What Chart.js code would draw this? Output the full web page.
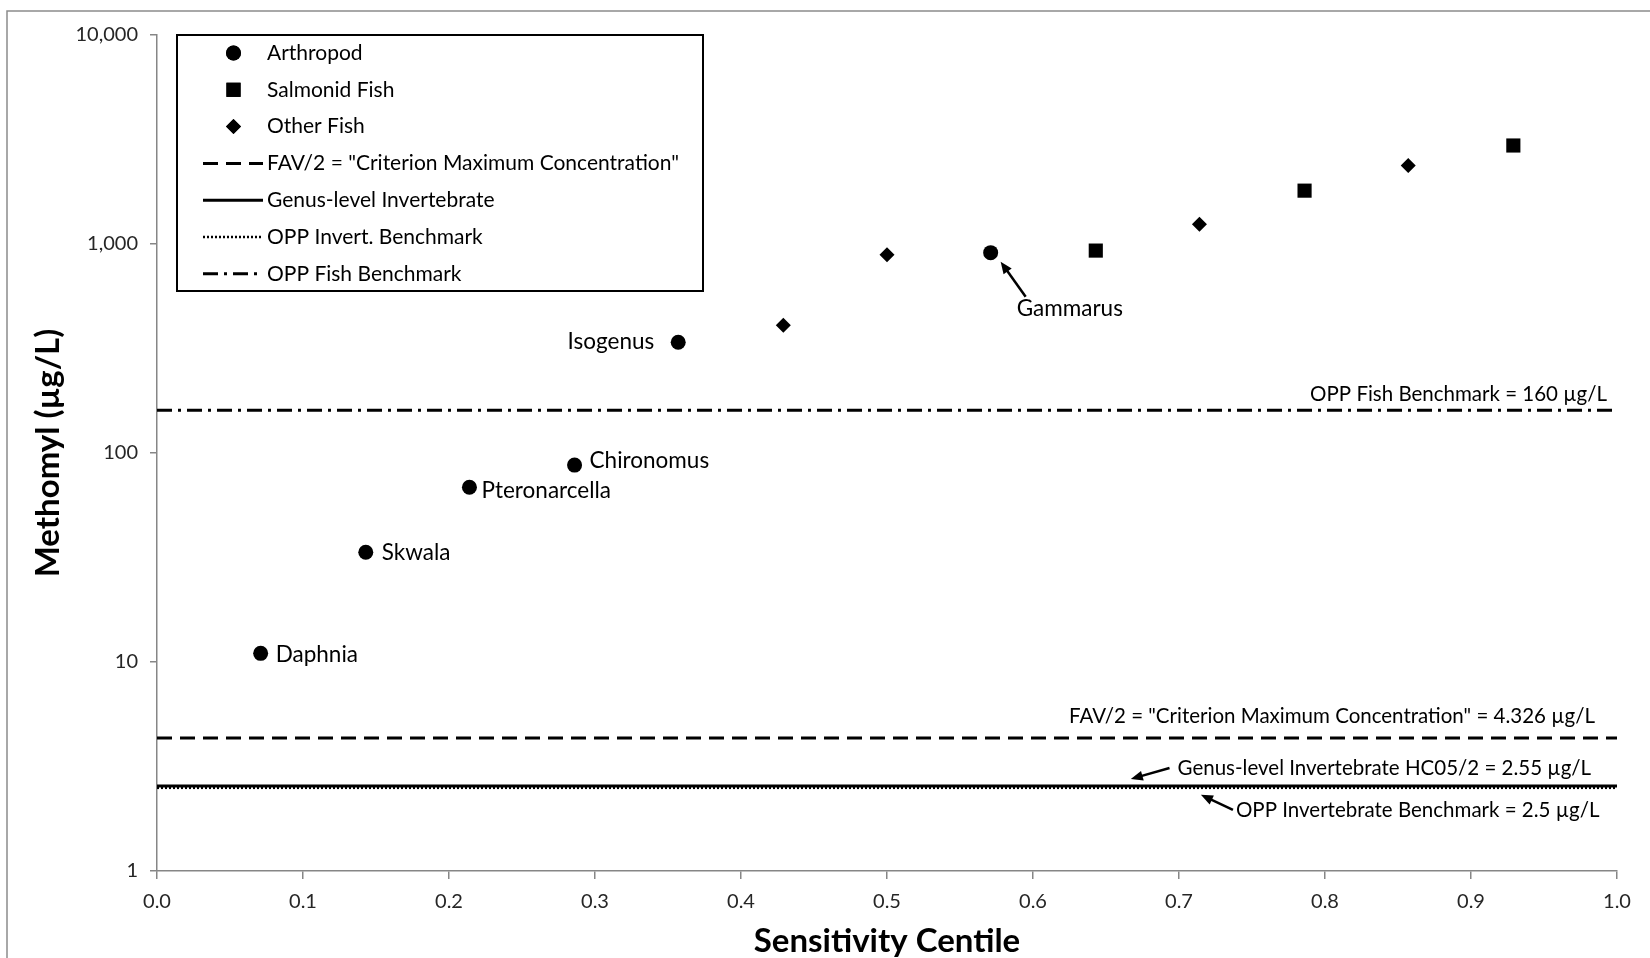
<!DOCTYPE html>
<html>
<head>
<meta charset="utf-8">
<title>Methomyl sensitivity distribution</title>
<script src="https://cdn.jsdelivr.net/npm/chart.js@4/dist/chart.umd.min.js"></script>
<style>
  html, body { margin: 0; padding: 0; background: #ffffff; }
  #wrap { width: 1650px; height: 958px; position: relative; }
</style>
</head>
<body>
<div id="wrap"><canvas id="chart"></canvas></div>
<script>
// ---- data ----
const arthropodNames = ['Daphnia', 'Skwala', 'Pteronarcella', 'Chironomus', 'Isogenus', 'Gammarus'];
const arthropodCentile = [0.071, 0.143, 0.214, 0.286, 0.357, 0.571];
const arthropodValue = [11.0, 33.5, 68.6, 87.5, 339, 909];

const salmonidCentile = [0.643, 0.786, 0.929];
const salmonidValue = [930, 1800, 2960];

const otherFishCentile = [0.429, 0.500, 0.714, 0.857];
const otherFishValue = [409, 888, 1243, 2377];

const benchmarkLegend = ['FAV/2 = "Criterion Maximum Concentration"', 'Genus-level Invertebrate', 'OPP Invert. Benchmark', 'OPP Fish Benchmark'];
const benchmarkNote = ['FAV/2 = "Criterion Maximum Concentration"', 'Genus-level Invertebrate HC05/2', 'OPP Invertebrate Benchmark', 'OPP Fish Benchmark'];
const benchmarkValue = [4.326, 2.55, 2.5, 160];

const yTickValues = [1, 10, 100, 1000, 10000];
const xTickStep = 0.1;

// ---- styling ----
const FONT = 'Lato, "Liberation Sans", sans-serif';
const AXIS_GREY = '#868686';
const TEXT_DARK = '#262626';

const pts = (xs, ys) => xs.map((x, i) => ({ x: x, y: ys[i] }));
const hline = v => [{ x: 0, y: v }, { x: 1, y: v }];

const lineStyles = [
  { borderDash: [15, 8], borderWidth: 3 },
  { borderDash: [], borderWidth: 3 },
  { borderDash: [2, 2], borderWidth: 2.5 },
  { borderDash: [15, 6, 3, 6], borderWidth: 3 }
];

const datasets = [
  { label: 'Arthropod', data: pts(arthropodCentile, arthropodValue), pointStyle: 'circle', pointRadius: 7.5, showLine: false, order: 0 },
  { label: 'Salmonid Fish', data: pts(salmonidCentile, salmonidValue), pointStyle: 'rect', pointRadius: 10, showLine: false, order: 0 },
  { label: 'Other Fish', data: pts(otherFishCentile, otherFishValue), pointStyle: 'rectRot', pointRadius: 7.5, showLine: false, order: 0 }
].map(d => Object.assign(d, { backgroundColor: '#000', borderColor: '#000', borderWidth: 0, pointHoverRadius: d.pointRadius }));

benchmarkValue.forEach((v, i) => {
  datasets.push(Object.assign({
    type: 'line',
    label: benchmarkLegend[i],
    data: hline(v),
    borderColor: '#000',
    backgroundColor: '#000',
    pointRadius: 0,
    pointHoverRadius: 0,
    fill: false,
    order: 1,
    isBenchmark: true
  }, lineStyles[i]));
});

// grey frame around the figure
const framePlugin = {
  id: 'frame',
  beforeDraw(chart) {
    const ctx = chart.ctx;
    ctx.save();
    ctx.strokeStyle = '#8c8c8c';
    ctx.lineWidth = 1.5;
    ctx.beginPath();
    ctx.moveTo(1650, 11);
    ctx.lineTo(7, 11);
    ctx.lineTo(7, 958);
    ctx.stroke();
    ctx.restore();
  }
};

function arrow(ctx, x1, y1, x2, y2) {
  const a = Math.atan2(y2 - y1, x2 - x1);
  const head = 12, half = 5;
  ctx.beginPath();
  ctx.moveTo(x1, y1);
  ctx.lineTo(x2 - Math.cos(a) * head * 0.8, y2 - Math.sin(a) * head * 0.8);
  ctx.lineWidth = 2.5;
  ctx.stroke();
  ctx.beginPath();
  ctx.moveTo(x2, y2);
  ctx.lineTo(x2 - Math.cos(a) * head + Math.sin(a) * half, y2 - Math.sin(a) * head - Math.cos(a) * half);
  ctx.lineTo(x2 - Math.cos(a) * head - Math.sin(a) * half, y2 - Math.sin(a) * head + Math.cos(a) * half);
  ctx.closePath();
  ctx.fill();
}

// species names, benchmark notes and arrows
const annotationPlugin = {
  id: 'notes',
  afterDatasetsDraw(chart) {
    const ctx = chart.ctx;
    const xs = chart.scales.x, ys = chart.scales.y;
    const area = chart.chartArea;
    ctx.save();
    ctx.fillStyle = '#000';
    ctx.strokeStyle = '#000';
    ctx.textBaseline = 'middle';

    // species labels beside arthropod points
    ctx.font = '22.5px ' + FONT;
    const offsets = {
      Daphnia: [15, 1, 'left'],
      Skwala: [16, 0, 'left'],
      Pteronarcella: [12, 4, 'left'],
      Chironomus: [15, -4, 'left'],
      Isogenus: [-24, 0, 'right']
    };
    arthropodNames.forEach((name, i) => {
      const px = xs.getPixelForValue(arthropodCentile[i]);
      const py = ys.getPixelForValue(arthropodValue[i]);
      if (offsets[name]) {
        const o = offsets[name];
        ctx.textAlign = o[2];
        ctx.fillText(name, px + o[0], py + o[1]);
      } else {
        ctx.textAlign = 'left';
        ctx.fillText(name, px + 26, py + 56);
        arrow(ctx, px + 35, py + 44, px + 10, py + 9);
      }
    });

    // benchmark notes
    ctx.font = '20.5px ' + FONT;
    const note = i => benchmarkNote[i] + ' = ' + benchmarkValue[i] + ' \u00b5g/L';
    const yFav = ys.getPixelForValue(benchmarkValue[0]);
    const yGenus = ys.getPixelForValue(benchmarkValue[1]);
    const yOpp = ys.getPixelForValue(benchmarkValue[2]);
    const yFish = ys.getPixelForValue(benchmarkValue[3]);

    ctx.textAlign = 'right';
    ctx.fillText(note(3), area.right - 10, yFish - 16);
    ctx.fillText(note(0), area.right - 22, yFav - 22);

    ctx.textAlign = 'left';
    const gx = xs.getPixelForValue(0.699);
    ctx.fillText(note(1), gx, yGenus - 18);
    arrow(ctx, gx - 8, yGenus - 18, xs.getPixelForValue(0.667), yGenus - 7);

    const ox = xs.getPixelForValue(0.739);
    ctx.fillText(note(2), ox, yOpp + 23);
    arrow(ctx, ox - 3, yOpp + 22, xs.getPixelForValue(0.715), yOpp + 7);
    ctx.restore();
  }
};

// boxed legend inside the plot
const legendPlugin = {
  id: 'boxLegend',
  afterDraw(chart) {
    const ctx = chart.ctx;
    const box = { x: 177, y: 35, w: 526, h: 256 };
    ctx.save();
    ctx.fillStyle = '#fff';
    ctx.fillRect(box.x, box.y, box.w, box.h);
    ctx.strokeStyle = '#000';
    ctx.lineWidth = 2;
    ctx.strokeRect(box.x, box.y, box.w, box.h);
    ctx.font = '21px ' + FONT;
    ctx.textBaseline = 'middle';
    ctx.textAlign = 'left';
    const rowH = 36.8;
    chart.data.datasets.forEach((ds, i) => {
      const cy = box.y + 18 + i * rowH;
      ctx.fillStyle = '#000';
      ctx.strokeStyle = '#000';
      if (ds.isBenchmark) {
        ctx.lineWidth = ds.borderWidth;
        ctx.setLineDash(ds.borderDash || []);
        ctx.beginPath();
        ctx.moveTo(203, cy);
        ctx.lineTo(263, cy);
        ctx.stroke();
        ctx.setLineDash([]);
      } else {
        Chart.helpers.drawPoint(ctx, {
          pointStyle: ds.pointStyle,
          radius: ds.pointRadius,
          borderWidth: 0,
          rotation: 0
        }, 233.5, cy);
        ctx.fill();
      }
      ctx.fillStyle = '#000';
      ctx.fillText(ds.label, 267, cy);
    });
    ctx.restore();
  }
};

new Chart(document.getElementById('chart'), {
  type: 'scatter',
  data: { datasets: datasets },
  plugins: [framePlugin, annotationPlugin, legendPlugin],
  options: {
    responsive: true,
    maintainAspectRatio: false,
    animation: false,
    events: [],
    layout: { padding: { left: 10, top: 35, right: 33, bottom: 0 } },
    plugins: {
      legend: { display: false },
      tooltip: { enabled: false }
    },
    scales: {
      x: {
        type: 'linear',
        min: 0,
        max: 1,
        afterFit(scale) { scale.height = 87; },
        border: { color: AXIS_GREY, width: 1.5 },
        grid: { display: true, drawOnChartArea: false, drawTicks: true, tickLength: 8, color: AXIS_GREY, lineWidth: 1.5 },
        ticks: {
          stepSize: xTickStep,
          padding: 11,
          color: TEXT_DARK,
          font: { family: FONT, size: 20 },
          callback: v => Number(v).toFixed(1)
        },
        title: {
          display: true,
          text: 'Sensitivity Centile',
          color: '#000',
          font: { family: FONT, size: 33, weight: 'bold' },
          padding: { top: 0, bottom: -3 }
        }
      },
      y: {
        type: 'logarithmic',
        min: 1,
        max: 10000,
        afterFit(scale) { scale.width = 147; },
        afterBuildTicks(scale) { scale.ticks = yTickValues.map(v => ({ value: v, major: true })); },
        border: { color: AXIS_GREY, width: 1.5 },
        grid: { display: true, drawOnChartArea: false, drawTicks: true, tickLength: 7, color: AXIS_GREY, lineWidth: 1.5 },
        ticks: {
          padding: 12,
          color: TEXT_DARK,
          font: { family: FONT, size: 20 },
          autoSkip: false,
          callback: v => Number(v).toLocaleString('en-US')
        },
        title: {
          display: true,
          text: 'Methomyl (\u00b5g/L)',
          color: '#000',
          font: { family: FONT, size: 33, weight: 'bold' },
          padding: { top: 19, bottom: 0 }
        }
      }
    }
  }
});
</script>
</body>
</html>
